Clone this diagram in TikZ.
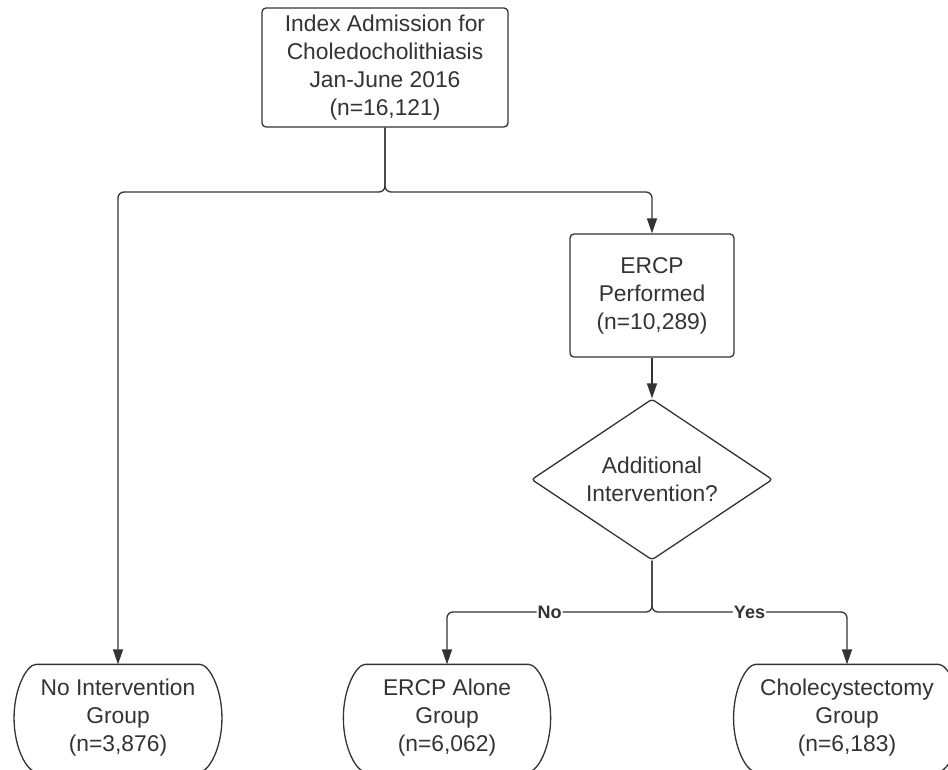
\documentclass[tikz,border=0pt]{standalone}
\usepackage{fontspec}
\setmainfont{Liberation Sans}
\usepackage{tikz}
\usetikzlibrary{shapes.geometric,arrows.meta}
\definecolor{ink}{HTML}{333333}

\begin{document}
\begin{tikzpicture}[x=1pt,y=-1pt,
    line width=1.3pt,draw=ink,text=ink,
    every node/.style={font=\fontsize{22.8}{28}\selectfont,align=center},
    proc/.style={draw,rounded corners=4pt,inner sep=0pt},
    ask/.style={draw,shape=diamond,aspect=1.5,inner sep=0pt,
      minimum width=241,minimum height=161,rounded corners=3pt},
    term/.style={inner xsep=26pt,inner ysep=0pt,minimum width=206,
      minimum height=106},
    arr/.style={-{Triangle[length=15pt,width=10pt]},rounded corners=6pt},
    lbl/.style={fill=white,inner sep=1pt,
      font=\fontsize{18}{20}\selectfont\bfseries}]
          \useasboundingbox (0,0) rectangle (948,770);
          \node[proc,minimum width=246,minimum height=119] (index) %
          at (385,67.5) {Index Admission for\\Choledocholithiasis\\%
            Jan-June 2016\\(n=16,121)};
          \node[proc,minimum width=164,minimum height=123] (ercp) %
          at (652,295.5) {ERCP\\Performed\\(n=10,289)};
          \node[ask] (more) at (652,479.5) {Additional\\Intervention?};
          \node[term] (none) at (118,718) {No Intervention\\Group\\(n=3,876)};
          \node[term] (alone) at (447,718) {ERCP Alone\\Group\\(n=6,062)};
          \node[term] (chole) at (847,718) %
          {Cholecystectomy\\Group\\(n=6,183)};
          \foreach \n in {none,alone,chole}
            \draw ([xshift=22pt]\n.north west) -- ([xshift=-22pt]\n.north east)
              .. controls ([xshift=-13pt]\n.north east) and ([yshift=30pt]\n.east)
              .. (\n.east)
              .. controls ([yshift=-30pt]\n.east) and ([xshift=-13pt]\n.south east)
              .. ([xshift=-22pt]\n.south east)
              -- ([xshift=22pt]\n.south west)
              .. controls ([xshift=13pt]\n.south west) and ([yshift=-30pt]\n.west)
              .. (\n.west)
              .. controls ([yshift=30pt]\n.west) and ([xshift=13pt]\n.north west)
              .. ([xshift=22pt]\n.north west) -- cycle;
          \coordinate (fork) at (385,192);
          \coordinate (split) at (652,612);
          \draw[arr] (index.south) -- (fork) -| (none.north);
          \draw[arr] (index.south) -- (fork) -| (ercp.north);
          \draw[arr] (ercp.south) -- (more.north);
          \draw[arr] (more.south) -- (split) -| node[lbl,pos=0.25] {No} %
          (alone.north);
          \draw[arr] (more.south) -- (split) -| node[lbl,pos=0.25] {Yes} %
          (chole.north);
        \end{tikzpicture}
\end{document}
